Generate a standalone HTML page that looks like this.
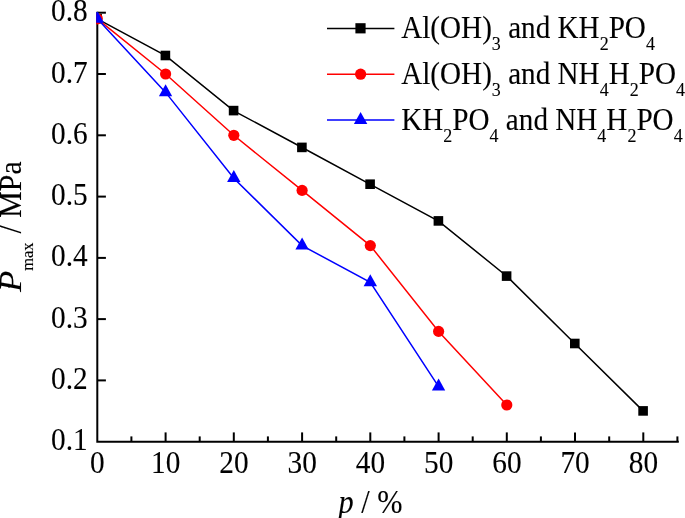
<!DOCTYPE html>
<html><head><meta charset="utf-8"><style>
html,body{margin:0;padding:0;background:#fff;}
body{width:685px;height:518px;overflow:hidden;}
svg{display:block;will-change:transform;}
text{font-family:"Liberation Serif",serif;font-size:29.3px;fill:#000;stroke:#000;stroke-width:0.1px;}
.sub{font-size:18px;}
.lg{font-size:29.15px;}
.it{font-style:italic;}
.ax{font-size:30.3px;}
</style></head><body>
<svg width="685" height="518" viewBox="0 0 685 518">
<rect width="685" height="518" fill="#fff"/>
<defs><clipPath id="c"><rect x="96.2" y="12.1" width="590" height="431"/></clipPath></defs>

<g stroke="#000" stroke-width="2" fill="none" stroke-linecap="butt">
<path d="M97.3 11.7 V441.7 H678.8"/>
<path d="M97.3 380.4 h8.6"/>
<path d="M97.3 319.1 h8.6"/>
<path d="M97.3 257.9 h8.6"/>
<path d="M97.3 196.6 h8.6"/>
<path d="M97.3 135.3 h8.6"/>
<path d="M97.3 74.0 h8.6"/>
<path d="M97.3 12.7 h8.6"/>
<path d="M131.4 441.7 v-5.3"/>
<path d="M165.6 441.7 v-9.3"/>
<path d="M199.7 441.7 v-5.3"/>
<path d="M233.8 441.7 v-9.3"/>
<path d="M267.9 441.7 v-5.3"/>
<path d="M302.1 441.7 v-9.3"/>
<path d="M336.2 441.7 v-5.3"/>
<path d="M370.3 441.7 v-9.3"/>
<path d="M404.4 441.7 v-5.3"/>
<path d="M438.6 441.7 v-9.3"/>
<path d="M472.7 441.7 v-5.3"/>
<path d="M506.8 441.7 v-9.3"/>
<path d="M540.9 441.7 v-5.3"/>
<path d="M575.0 441.7 v-9.3"/>
<path d="M609.2 441.7 v-5.3"/>
<path d="M643.3 441.7 v-9.3"/>
<path d="M677.4 441.7 v-5.3"/>
</g>
<g clip-path="url(#c)">
<polyline fill="none" stroke="#000" stroke-width="1.5" points="97.3,18.8 165.6,55.6 233.8,110.8 302.1,147.5 370.3,184.3 438.6,221.1 506.8,276.2 575.0,343.7 643.3,411.1"/>
<rect x="92.3" y="13.9" width="9.6" height="9.6" fill="#000"/>
<rect x="160.6" y="50.7" width="9.6" height="9.6" fill="#000"/>
<rect x="228.8" y="105.8" width="9.6" height="9.6" fill="#000"/>
<rect x="297.1" y="142.6" width="9.6" height="9.6" fill="#000"/>
<rect x="365.3" y="179.4" width="9.6" height="9.6" fill="#000"/>
<rect x="433.6" y="216.1" width="9.6" height="9.6" fill="#000"/>
<rect x="501.8" y="271.3" width="9.6" height="9.6" fill="#000"/>
<rect x="570.0" y="338.7" width="9.6" height="9.6" fill="#000"/>
<rect x="638.3" y="406.1" width="9.6" height="9.6" fill="#000"/>
<polyline fill="none" stroke="#f00" stroke-width="1.5" points="97.3,18.8 165.6,74.0 233.8,135.3 302.1,190.4 370.3,245.6 438.6,331.4 506.8,405.0"/>
<circle cx="97.3" cy="18.8" r="5.6" fill="#f00"/>
<circle cx="165.6" cy="74.0" r="5.6" fill="#f00"/>
<circle cx="233.8" cy="135.3" r="5.6" fill="#f00"/>
<circle cx="302.1" cy="190.4" r="5.6" fill="#f00"/>
<circle cx="370.3" cy="245.6" r="5.6" fill="#f00"/>
<circle cx="438.6" cy="331.4" r="5.6" fill="#f00"/>
<circle cx="506.8" cy="405.0" r="5.6" fill="#f00"/>
<polyline fill="none" stroke="#00f" stroke-width="1.5" points="97.3,18.8 165.6,92.4 233.8,178.2 302.1,245.6 370.3,282.4 438.6,386.6"/>
<polygon fill="#00f" points="97.3,10.8 90.6,22.7 104.0,22.7"/>
<polygon fill="#00f" points="165.6,84.3 158.9,96.3 172.2,96.3"/>
<polygon fill="#00f" points="233.8,170.1 227.1,182.1 240.5,182.1"/>
<polygon fill="#00f" points="302.1,237.6 295.4,249.5 308.8,249.5"/>
<polygon fill="#00f" points="370.3,274.3 363.6,286.3 377.0,286.3"/>
<polygon fill="#00f" points="438.6,378.5 431.9,390.5 445.2,390.5"/>
</g>
<text transform="translate(87.6,450.2) scale(1,1.09)" text-anchor="end">0.1</text>
<text transform="translate(87.6,388.9) scale(1,1.09)" text-anchor="end">0.2</text>
<text transform="translate(87.6,327.6) scale(1,1.09)" text-anchor="end">0.3</text>
<text transform="translate(87.6,266.4) scale(1,1.09)" text-anchor="end">0.4</text>
<text transform="translate(87.6,205.1) scale(1,1.09)" text-anchor="end">0.5</text>
<text transform="translate(87.6,143.8) scale(1,1.09)" text-anchor="end">0.6</text>
<text transform="translate(87.6,82.5) scale(1,1.09)" text-anchor="end">0.7</text>
<text transform="translate(87.6,21.2) scale(1,1.09)" text-anchor="end">0.8</text>
<text transform="translate(97.4,473.3) scale(1,1.09)" text-anchor="middle">0</text>
<text transform="translate(165.7,473.3) scale(1,1.09)" text-anchor="middle">10</text>
<text transform="translate(233.9,473.3) scale(1,1.09)" text-anchor="middle">20</text>
<text transform="translate(302.2,473.3) scale(1,1.09)" text-anchor="middle">30</text>
<text transform="translate(370.4,473.3) scale(1,1.09)" text-anchor="middle">40</text>
<text transform="translate(438.7,473.3) scale(1,1.09)" text-anchor="middle">50</text>
<text transform="translate(506.9,473.3) scale(1,1.09)" text-anchor="middle">60</text>
<text transform="translate(575.1,473.3) scale(1,1.09)" text-anchor="middle">70</text>
<text transform="translate(643.4,473.3) scale(1,1.09)" text-anchor="middle">80</text>
<text transform="translate(338.5,512.6) scale(1,1.09)" class="ax"><tspan class="it">p</tspan> / %</text>
<text transform="translate(21.3,292) rotate(-90) scale(1.15,1.02)" style="font-size:30.3px;font-style:italic">P</text>
<text transform="translate(33.2,270.8) rotate(-90)" style="font-size:16.5px">max</text>
<text transform="translate(21.3,233.4) rotate(-90) scale(1,1.04)" style="font-size:29.8px">/ MPa</text>
<path d="M327 28.4 H394.4" stroke="#000" stroke-width="1.5"/>
<path d="M327 74.2 H394.4" stroke="#f00" stroke-width="1.5"/>
<path d="M327 120.0 H394.4" stroke="#00f" stroke-width="1.5"/>
<rect x="355.4" y="23.2" width="10.2" height="10.2" fill="#000"/>
<circle cx="360.6" cy="74.2" r="5.6" fill="#f00"/>
<polygon fill="#00f" points="360.6,112.0 353.9,123.9 367.3,123.9"/>
<text transform="translate(401.2,38.1) scale(1,1.065)" class="lg">Al(OH)<tspan class="sub" dy="10.9">3</tspan><tspan dy="-10.9"> and KH</tspan><tspan class="sub" dy="10.9">2</tspan><tspan dy="-10.9">PO</tspan><tspan class="sub" dy="10.9">4</tspan></text>
<text transform="translate(401.2,84.2) scale(1,1.065)" class="lg">Al(OH)<tspan class="sub" dy="10.9">3</tspan><tspan dy="-10.9"> and NH</tspan><tspan class="sub" dy="10.9">4</tspan><tspan dy="-10.9">H</tspan><tspan class="sub" dy="10.9">2</tspan><tspan dy="-10.9">PO</tspan><tspan class="sub" dy="10.9">4</tspan></text>
<text transform="translate(401.2,129.9) scale(1,1.065)" class="lg">KH<tspan class="sub" dy="10.9">2</tspan><tspan dy="-10.9">PO</tspan><tspan class="sub" dy="10.9">4</tspan><tspan dy="-10.9"> and NH</tspan><tspan class="sub" dy="10.9">4</tspan><tspan dy="-10.9">H</tspan><tspan class="sub" dy="10.9">2</tspan><tspan dy="-10.9">PO</tspan><tspan class="sub" dy="10.9">4</tspan></text>
</svg></body></html>
